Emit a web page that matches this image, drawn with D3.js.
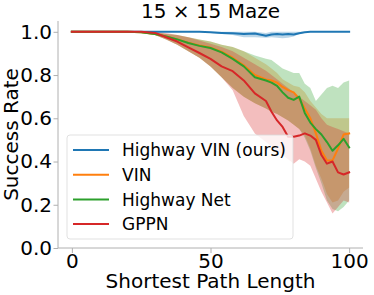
<!DOCTYPE html>
<html>
<head>
<meta charset="utf-8">
<script src="https://cdn.jsdelivr.net/npm/d3@7"></script>
<style>
    body { margin: 0; background: #fff; }
    svg { display: block; font-family: "DejaVu Sans", sans-serif; }
</style>
</head>
<body>
<svg id="chart" width="374" height="295"></svg>
<script>
// path lengths where every run was sampled
var pathLengths = [0, 5, 10, 15, 20, 25, 30, 34, 38, 42, 46, 50, 54, 58, 62, 66, 70, 72, 74, 76, 78, 80, 82, 84, 86, 88, 90, 92, 94, 96, 98, 100];

var seriesNames = ['Highway VIN (ours)', 'VIN', 'Highway Net', 'GPPN'];
var seriesColors = ['#1f77b4', '#ff7f0e', '#2ca02c', '#d62728'];

var highwayVinMean = [1, 1, 1, 1, 1, 1, 1, 1, 1, 1, 1, 0.998, 0.995, 0.993, 0.99, 0.992, 0.982, 0.988, 0.99, 0.988, 0.99, 0.988, 0.993, 0.998, 1, 1, 1, 1, 1, 1, 1, 1];
var highwayVinLow = [1, 1, 1, 1, 1, 1, 1, 1, 1, 1, 1, 0.995, 0.99, 0.985, 0.975, 0.975, 0.972, 0.975, 0.972, 0.97, 0.972, 0.978, 0.99, 0.996, 1, 1, 1, 1, 1, 1, 1, 1];
var highwayVinHigh = [1, 1, 1, 1, 1, 1, 1, 1, 1, 1, 1, 1, 1, 1, 1, 1, 0.995, 1, 1, 1, 1, 1, 1, 1, 1, 1, 1, 1, 1, 1, 1, 1];

var vinMean = [1, 1, 1, 1, 1, 0.998, 0.99, 0.978, 0.965, 0.95, 0.937, 0.927, 0.908, 0.88, 0.845, 0.8, 0.78, 0.775, 0.765, 0.745, 0.73, 0.72, 0.69, 0.645, 0.6, 0.53, 0.45, 0.405, 0.405, 0.46, 0.525, 0.53];
var vinLow = [1, 1, 1, 1, 1, 0.995, 0.985, 0.965, 0.94, 0.91, 0.88, 0.84, 0.79, 0.74, 0.7, 0.67, 0.645, 0.63, 0.62, 0.605, 0.59, 0.57, 0.55, 0.52, 0.46, 0.38, 0.32, 0.25, 0.21, 0.22, 0.26, 0.28];
var vinHigh = [1, 1, 1, 1, 1, 1, 0.998, 0.99, 0.985, 0.975, 0.965, 0.955, 0.94, 0.93, 0.91, 0.88, 0.85, 0.83, 0.81, 0.78, 0.765, 0.75, 0.745, 0.72, 0.68, 0.65, 0.62, 0.6, 0.6, 0.6, 0.6, 0.6];

var highwayNetMean = [1, 1, 1, 1, 1, 0.998, 0.99, 0.978, 0.965, 0.948, 0.935, 0.925, 0.905, 0.875, 0.84, 0.79, 0.775, 0.765, 0.75, 0.72, 0.695, 0.685, 0.7, 0.625, 0.58, 0.55, 0.525, 0.49, 0.45, 0.475, 0.505, 0.465];
var highwayNetLow = [1, 1, 1, 1, 1, 0.995, 0.985, 0.965, 0.94, 0.91, 0.88, 0.84, 0.79, 0.74, 0.7, 0.67, 0.645, 0.63, 0.62, 0.605, 0.59, 0.57, 0.55, 0.51, 0.45, 0.37, 0.3, 0.22, 0.18, 0.17, 0.19, 0.22];
var highwayNetHigh = [1, 1, 1, 1, 1, 1, 0.998, 0.99, 0.985, 0.975, 0.965, 0.955, 0.94, 0.93, 0.91, 0.89, 0.875, 0.87, 0.85, 0.83, 0.82, 0.81, 0.81, 0.76, 0.74, 0.68, 0.71, 0.74, 0.75, 0.74, 0.765, 0.775];

var gppnMean = [1, 1, 1, 1, 1, 1, 0.995, 0.975, 0.955, 0.928, 0.902, 0.875, 0.84, 0.818, 0.775, 0.715, 0.68, 0.63, 0.59, 0.56, 0.515, 0.515, 0.52, 0.53, 0.52, 0.5, 0.43, 0.39, 0.4, 0.35, 0.34, 0.35];
var gppnLow = [1, 1, 1, 1, 1, 1, 0.985, 0.965, 0.94, 0.91, 0.88, 0.84, 0.79, 0.73, 0.61, 0.53, 0.49, 0.47, 0.45, 0.43, 0.41, 0.39, 0.41, 0.4, 0.38, 0.32, 0.26, 0.21, 0.16, 0.19, 0.22, 0.21];
var gppnHigh = [1, 1, 1, 1, 1, 1, 1, 0.995, 0.985, 0.975, 0.96, 0.945, 0.93, 0.91, 0.88, 0.85, 0.82, 0.8, 0.78, 0.76, 0.74, 0.72, 0.7, 0.68, 0.66, 0.64, 0.6, 0.57, 0.56, 0.55, 0.54, 0.53];

var xTicks = [0, 50, 100];
var yTicks = [0, 0.2, 0.4, 0.6, 0.8, 1.0];

(function () {
    var svg = d3.select('#chart'),
        plotLeft = 58, plotRight = 363, plotTop = 21, plotBottom = 248,
        spineColor = '#b0b0b0';

    var x = d3.scaleLinear().domain([-5, 105]).range([plotLeft, plotRight]);
    var y = d3.scaleLinear().domain([0, 1.05]).range([plotBottom, plotTop]);

    var series = [
        { mean: highwayVinMean, low: highwayVinLow, high: highwayVinHigh },
        { mean: vinMean, low: vinLow, high: vinHigh },
        { mean: highwayNetMean, low: highwayNetLow, high: highwayNetHigh },
        { mean: gppnMean, low: gppnLow, high: gppnHigh }
    ];

    var area = d3.area()
        .x(function (d, i) { return x(pathLengths[i]); })
        .y0(function (d) { return y(d[0]); })
        .y1(function (d) { return y(d[1]); });

    var line = d3.line()
        .x(function (d, i) { return x(pathLengths[i]); })
        .y(function (d) { return y(d); });

    // bands go below every line, like matplotlib's zorder
    series.forEach(function (s, k) {
        svg.append('path')
            .datum(d3.zip(s.low, s.high))
            .attr('d', area)
            .attr('fill', seriesColors[k])
            .attr('fill-opacity', 0.3);
    });

    series.forEach(function (s, k) {
        svg.append('path')
            .datum(s.mean)
            .attr('d', line)
            .attr('fill', 'none')
            .attr('stroke', seriesColors[k])
            .attr('stroke-width', 2)
            .attr('stroke-linejoin', 'round')
            .attr('stroke-linecap', 'square');
    });

    // axes
    var xAxis = d3.axisBottom(x).tickValues(xTicks).tickSize(5).tickPadding(1).tickFormat(d3.format('d'));
    var yAxis = d3.axisLeft(y).tickValues(yTicks).tickSize(4.5).tickPadding(1.5).tickFormat(d3.format('.1f'));

    var gx = svg.append('g').attr('transform', 'translate(0,' + plotBottom + ')').call(xAxis);
    var gy = svg.append('g').attr('transform', 'translate(' + plotLeft + ',0)').call(yAxis);

    [gx, gy].forEach(function (g) {
        g.attr('font-size', null).attr('font-family', null);
        g.select('.domain').remove();
        g.selectAll('.tick line').attr('stroke', spineColor);
        g.selectAll('.tick text')
            .attr('fill', '#000')
            .style('font-size', '20px');
    });

    svg.append('line')
        .attr('x1', plotLeft).attr('x2', plotRight).attr('y1', plotBottom).attr('y2', plotBottom)
        .attr('stroke', spineColor).attr('stroke-width', 1);
    svg.append('line')
        .attr('x1', plotLeft).attr('x2', plotLeft).attr('y1', plotTop).attr('y2', plotBottom)
        .attr('stroke', spineColor).attr('stroke-width', 1);

    // titles
    svg.append('text')
        .attr('x', (plotLeft + plotRight) / 2).attr('y', 18)
        .attr('text-anchor', 'middle')
        .style('font-size', '20px')
        .text('15 \u00d7 15 Maze');

    svg.append('text')
        .attr('x', (plotLeft + plotRight) / 2).attr('y', 288)
        .attr('text-anchor', 'middle')
        .style('font-size', '20px')
        .text('Shortest Path Length');

    svg.append('text')
        .attr('transform', 'translate(18,' + (plotTop + plotBottom) / 2 + ') rotate(-90)')
        .attr('text-anchor', 'middle')
        .style('font-size', '20px')
        .text('Success Rate');

    // legend
    var legend = svg.append('g').attr('transform', 'translate(67,135)');

    legend.append('rect')
        .attr('width', 226).attr('height', 104)
        .attr('rx', 3)
        .attr('fill', '#fff').attr('fill-opacity', 0.8)
        .attr('stroke', '#d9d9d9').attr('stroke-opacity', 0.8);

    var items = legend.selectAll('.item')
        .data(seriesNames)
        .enter().append('g')
        .attr('transform', function (d, i) { return 'translate(0,' + (15 + i * 24.7) + ')'; });

    items.append('line')
        .attr('x1', 6).attr('x2', 42)
        .attr('stroke', function (d, i) { return seriesColors[i]; })
        .attr('stroke-width', 2);

    items.append('text')
        .attr('x', 55).attr('dy', '0.36em')
        .style('font-size', '17px')
        .text(function (d) { return d; });
})();
</script>
</body>
</html>
